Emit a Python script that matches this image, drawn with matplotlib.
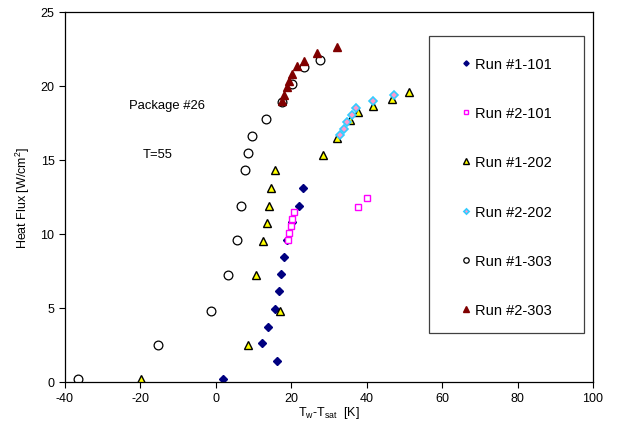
import matplotlib
matplotlib.use("Agg")
import matplotlib.pyplot as plt
from matplotlib.patches import Rectangle

plt.rcParams['font.family'] = ['Liberation Sans', 'DejaVu Sans']
plt.rcParams['axes.unicode_minus'] = False

# Run #1-101
x1_101 = [1.9, 16.2, 12.3, 13.8, 15.6, 16.7, 17.2, 18.0, 19.0, 20.3, 22.0, 23.0]
y1_101 = [0.2, 1.4, 2.6, 3.7, 4.9, 6.1, 7.26, 8.43, 9.6, 10.8, 11.9, 13.1]
# Run #2-101
x2_101 = [19.2, 19.5, 19.9, 20.3, 20.8, 37.8, 40.0]
y2_101 = [9.6, 10.05, 10.5, 11.0, 11.5, 11.8, 12.4]
# Run #1-202
x1_202 = [-19.8, 8.4, 17.0, 10.7, 12.4, 13.6, 14.1, 14.5, 15.6, 28.4, 32.1, 35.7, 37.8, 41.6, 46.7, 51.1]
y1_202 = [0.2, 2.5, 4.8, 7.2, 9.5, 10.7, 11.9, 13.1, 14.3, 15.3, 16.5, 17.7, 18.2, 18.65, 19.1, 19.6]
# Run #2-202
x2_202 = [32.9, 34.0, 34.9, 36.1, 37.1, 41.6, 47.3]
y2_202 = [16.7, 17.1, 17.55, 18.0, 18.5, 19.0, 19.4]
# Run #1-303
x1_303 = [-36.5, -15.4, -1.2, 3.3, 5.6, 6.7, 7.7, 8.4, 9.6, 13.2, 17.5, 20.1, 23.5, 27.5]
y1_303 = [0.2, 2.5, 4.8, 7.2, 9.55, 11.9, 14.3, 15.45, 16.6, 17.75, 18.9, 20.1, 21.25, 21.75]
# Run #2-303
x2_303 = [17.5, 18.1, 19.0, 19.5, 20.1, 21.5, 23.3, 26.9, 32.1]
y2_303 = [18.95, 19.4, 19.9, 20.3, 20.8, 21.3, 21.7, 22.2, 22.6]

labels = ["Run #1-101", "Run #2-101", "Run #1-202", "Run #2-202", "Run #1-303", "Run #2-303"]

fig = plt.figure(figsize=(6.23, 4.31), dpi=100)
ax = fig.add_axes([0.1043, 0.112, 0.8475, 0.8585])

ax.plot(x1_101, y1_101, ls='none', marker='D', ms=4.3, mfc='#000080', mec='#000080', label=labels[0])
ax.plot(x2_101, y2_101, ls='none', marker='s', ms=4.3, mfc='white', mec='#FF00FF', mew=1.0, label=labels[1])
ax.plot(x1_202, y1_202, ls='none', marker='^', ms=6.3, mfc='#FFFF00', mec='black', mew=1.0, label=labels[2])
ax.plot(x2_202, y2_202, ls='none', marker='D', ms=4.3, mfc='#FF99CC', mec='#33CCFF', mew=1.2, label=labels[3])
ax.plot(x1_303, y1_303, ls='none', marker='o', ms=6.3, mfc='white', mec='black', mew=0.9, label=labels[4])
ax.plot(x2_303, y2_303, ls='none', marker='^', ms=6.3, mfc='#800000', mec='#800000', label=labels[5])

ax.set_xlim(-40, 100)
ax.set_ylim(0, 25)
ax.set_xticks(range(-40, 101, 20))
ax.set_yticks(range(0, 26, 5))
ax.tick_params(direction='out', length=4, labelsize=9, width=0.8)
ax.tick_params(axis='x', top=False)
ax.tick_params(axis='y', right=False)
for s in ax.spines.values():
    s.set_linewidth(0.9)
    s.set_color('black')

ax.set_xlabel(r"T$_\mathregular{w}$-T$_\mathregular{sat}$  [K]", fontsize=9, labelpad=0)
ax.set_ylabel(r"Heat Flux [W/cm$^\mathregular{2}$]", fontsize=9, labelpad=6)

ax.text(-23.0, 18.7, "Package #26", fontsize=9.4, va='center', ha='left')
ax.text(-19.3, 15.4, "T=55", fontsize=9.4, va='center', ha='left')

# legend frame
ax.add_patch(Rectangle((0.689, 0.132), 0.294, 0.802, transform=ax.transAxes,
                       fill=True, facecolor='white', edgecolor='#404040',
                       linewidth=0.9, zorder=4))
leg = ax.legend(loc='upper left', bbox_to_anchor=(0.750, 0.878), fontsize=10.5,
                frameon=False, markerscale=0.62, handlelength=0.7,
                handletextpad=0.28, labelspacing=2.42, borderpad=0, borderaxespad=0,
                numpoints=1)
leg.set_zorder(5)

fig.savefig("out.png", dpi=100)
